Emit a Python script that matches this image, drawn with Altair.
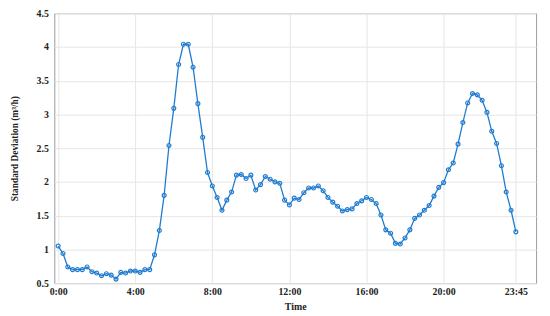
import altair as alt
import pandas as pd

# Standard deviation every 15 minutes, 0:00 .. 23:45 (96 values)
sd_values = [
    1.05, 0.94, 0.74, 0.70, 0.70, 0.70, 0.74, 0.67, 0.65, 0.61, 0.64, 0.62,
    0.56, 0.66, 0.65, 0.68, 0.68, 0.66, 0.70, 0.70, 0.92, 1.28, 1.80, 2.54,
    3.09, 3.74, 4.04, 4.04, 3.70, 3.16, 2.66, 2.14, 1.94, 1.77, 1.58, 1.73,
    1.85, 2.10, 2.11, 2.05, 2.10, 1.88, 1.96, 2.08, 2.04, 2.00, 1.98, 1.73,
    1.66, 1.76, 1.74, 1.84, 1.91, 1.91, 1.94, 1.87, 1.77, 1.70, 1.64, 1.57,
    1.59, 1.60, 1.68, 1.72, 1.77, 1.74, 1.68, 1.51, 1.29, 1.24, 1.09, 1.08,
    1.17, 1.29, 1.46, 1.51, 1.58, 1.65, 1.79, 1.92, 1.99, 2.18, 2.28, 2.56,
    2.88, 3.17, 3.31, 3.29, 3.21, 3.03, 2.75, 2.57, 2.24, 1.85, 1.58, 1.26,
]
hours = [i * 0.25 for i in range(len(sd_values))]

x_tick_values = [0, 4, 8, 12, 16, 20, 23.75]
x_tick_labels = ["0:00", "4:00", "8:00", "12:00", "16:00", "20:00", "23:45"]
y_tick_values = [0.5, 1, 1.5, 2, 2.5, 3, 3.5, 4, 4.5]

df = pd.DataFrame({"hour": hours, "sd": sd_values})

label_expr = ""
for v, l in zip(x_tick_values, x_tick_labels):
    label_expr += f"datum.value == {v} ? '{l}' : "
label_expr += "''"

BLUE = "#1f7bd0"
FONT = "Liberation Serif"

x_enc = alt.X(
    "hour:Q",
    scale=alt.Scale(domain=[-0.2, 24.8], nice=False, zero=False),
    axis=alt.Axis(
        values=x_tick_values,
        labelExpr=label_expr,
        title="Time",
        grid=True,
        gridColor="#e6e6e6",
        ticks=False,
        domain=False,
        labelFont=FONT,
        labelFontWeight="bold",
        labelFontSize=10,
        labelColor="#222",
        labelPadding=4,
        titleFont=FONT,
        titleFontWeight="bold",
        titleFontSize=10,
        titleColor="#222",
        titlePadding=5,
    ),
)
y_enc = alt.Y(
    "sd:Q",
    scale=alt.Scale(domain=[0.5, 4.5], nice=False, zero=False),
    axis=alt.Axis(
        values=y_tick_values,
        format=".1~f",
        title="Standard Deviation (m³/h)",
        grid=True,
        gridColor="#e6e6e6",
        ticks=False,
        domain=False,
        labelFont=FONT,
        labelFontWeight="bold",
        labelFontSize=10,
        labelColor="#222",
        labelPadding=6,
        titleFont=FONT,
        titleFontWeight="bold",
        titleFontSize=9.5,
        titleColor="#222",
        titlePadding=17,
    ),
)

base = alt.Chart(df).encode(x=x_enc, y=y_enc)
line = base.mark_line(color=BLUE, strokeWidth=1.3)
points = base.mark_point(shape="circle", filled=False, color=BLUE, size=16, strokeWidth=1.2, opacity=1)

chart = (
    (line + points)
    .properties(
        width=489,
        height=274,
        autosize=alt.AutoSizeParams(type="none"),
        padding={"left": 47, "top": 3, "right": 6, "bottom": 28},
    )
    .configure_view(stroke="#9a9a9a", strokeWidth=1)
)

chart.save("out.html", embed_options={"renderer": "svg", "actions": False})
